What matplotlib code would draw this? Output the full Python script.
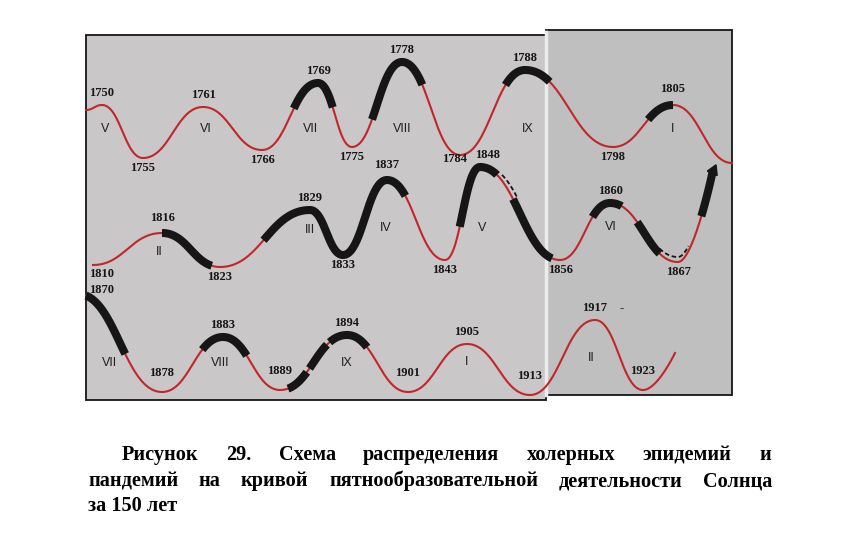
import matplotlib.pyplot as plt
import numpy as np
from matplotlib.bezier import BezierSegment
from matplotlib.patches import Rectangle

# turning points of the sunspot curve, row by row:
# year, place along the strip, height of the curve
row1_years = [1749, 1750, 1755, 1761, 1766, 1769, 1775, 1778, 1784, 1788, 1798, 1805, 1810]
row1_x = [0, 16, 57, 117, 176, 232, 266, 316, 374, 439, 527, 587, 646]
row1_y = [290, 295, 242, 293, 250, 317, 253, 338, 245, 330, 253, 295, 237]
row1_shown = [False] + [True] * 11 + [False]

row2_years = [1810, 1816, 1823, 1829, 1833, 1837, 1843, 1848, 1856, 1860, 1867, 1870]
row2_x = [7, 76, 134, 224, 257, 301, 359, 394, 474, 524, 592, 627]
row2_y = [135, 167, 133, 190, 145, 220, 140, 233, 140, 197, 138, 230]
row2_shown = [True] * 11 + [False]

row3_years = [1870, 1878, 1883, 1889, 1894, 1901, 1905, 1913, 1917, 1923, 1926]
row3_x = [-8, 76, 137, 194, 261, 322, 381, 444, 509, 557, 589]
row3_y = [106, 8, 63, 10, 65, 8, 56, 5, 80, 10, 47]
row3_shown = [True] * 10 + [False]

# cholera epidemics (thick black) and doubtful spans (dashed), in years
row1_epidemics = [(1767.7, 1771.6), (1776.2, 1780.1), (1786.8, 1790.8), (1802.1, 1805.0)]
row2_epidemics = [(1816.0, 1822.0), (1825.9, 1838.9), (1845.1, 1849.7), (1851.3, 1855.2),
                  (1858.6, 1861.2), (1862.8, 1865.1), (1869.0, 1870.0)]
row2_dashed = [(1849.7, 1851.3), (1865.1, 1867.9)]
row3_epidemics = [(1870.0, 1874.5), (1881.3, 1885.5), (1889.6, 1891.0), (1891.2, 1892.5),
                  (1892.7, 1896.3)]

# numbers of the solar cycles
row1_cycles = ['V', 'VI', 'VII', 'VIII', 'IX', 'I']
row1_cycle_years = [1750.4, 1761.2, 1768.6, 1778, 1788.3, 1804.9]
row1_cycle_y = [271] * 6
row2_cycles = ['II', 'III', 'IV', 'V', 'VI']
row2_cycle_years = [1815.8, 1829, 1836.9, 1848.2, 1860.1]
row2_cycle_y = [148, 170, 172, 172, 173]
row3_cycles = ['VII', 'VIII', 'IX', 'I', 'II']
row3_cycle_years = [1873.0, 1882.8, 1894, 1905, 1916.8]
row3_cycle_y = [37, 37, 37, 38, 42]

caption = ['Рисунок 29. Схема распределения холерных эпидемий и',
           'пандемий на кривой пятнообразовательной деятельности Солнца',
           'за 150 лет']

RED = '#c3262a'
INK = '#161616'

# small shifts of year labels that sit off their turning point in the source
label_nudge = {1784: (-5, 6), 1848: (8, 0), 1870: (0, -8), 1810: (0, 1), 1805: (0, 4),
               1816: (0, 3), 1837: (0, 3)}


def curve_points(xs, ys, open_end=False, k=0.45, n=80):
    pts = []
    last = len(xs) - 2
    for i in range(len(xs) - 1):
        x0, y0, x1, y1 = xs[i], ys[i], xs[i + 1], ys[i + 1]
        dx = x1 - x0
        c2 = (x1, y1) if (i == last and open_end) else (x1 - k * dx, y1)
        seg = BezierSegment(np.array([(x0, y0), (x0 + k * dx, y0), c2, (x1, y1)]))
        p = seg(np.linspace(0, 1, n))
        pts.append(p if i == 0 else p[1:])
    p = np.vstack(pts)
    return p[:, 0], p[:, 1]


def piece(cx, cy, xa, xb):
    xa = max(xa, 0)
    m = (cx > xa) & (cx < xb)
    px = np.concatenate([[xa], cx[m], [xb]])
    py = np.concatenate([[np.interp(xa, cx, cy)], cy[m], [np.interp(xb, cx, cy)]])
    return px, py


fig = plt.figure(figsize=(8.56, 5.45), dpi=100)
ax = fig.add_axes([0, 0, 1, 1])
ax.set_xlim(-86, 770)
ax.set_ylim(-145, 400)
ax.axis('off')

# the two scanned pages of the figure
ax.add_patch(Rectangle((0, 0), 460, 365, facecolor='#c9c7c8', edgecolor=INK, lw=1.3, zorder=0))
ax.add_patch(Rectangle((460, 5), 186, 365, facecolor='#bfbfbf', edgecolor=INK, lw=1.3, zorder=0))
ax.plot([460, 460], [5, 368], color='#ececec', lw=2.5, zorder=0.5)

rows = [
    (row1_years, row1_x, row1_y, row1_shown, row1_epidemics, [], False, False),
    (row2_years, row2_x, row2_y, row2_shown, row2_epidemics, row2_dashed, True, False),
    (row3_years, row3_x, row3_y, row3_shown, row3_epidemics, [], True, True),
]
dash_shift = [(5, 0), (0, 5)]
label_font = dict(family='Liberation Serif', weight='bold', fontsize=9, color=INK,
                  ha='center', va='center', zorder=5)

for years, xs, ys, shown, epid, dashed, open_end, low_row in rows:
    cx, cy = curve_points(xs, ys, open_end)
    keep = cx >= 0
    ax.plot(cx[keep], cy[keep], color=RED, lw=1.5, zorder=2)
    for a, b in epid:
        xa, xb = np.interp([a, b], years, xs)
        px, py = piece(cx, cy, xa, xb)
        ax.plot(px, py, color=INK, lw=5.8, solid_capstyle='butt', zorder=3)
    for j, (a, b) in enumerate(dashed):
        xa, xb = np.interp([a, b], years, xs)
        px, py = piece(cx, cy, xa, xb)
        sx, sy = dash_shift[j]
        ax.plot(px + sx, py + sy, color=INK, lw=1.3, ls=(0, (2.5, 1.5)), zorder=3)

    # year labels at the maxima and minima
    for i, (yr, x, y, show) in enumerate(zip(years, xs, ys, shown)):
        if not show:
            continue
        nb = [ys[j] for j in (i - 1, i + 1) if 0 <= j < len(ys)]
        peak = all(y > v for v in nb)
        if peak:
            ty = y + 12
        elif low_row:
            ty = y + 19
        else:
            ty = y - 10
        dx, dy = label_nudge.get(yr, (0, 0))
        ax.text(max(x, 16) + dx, ty + dy, str(yr), **label_font)

# arrow tip at the end of the second row
ax.plot(row2_x[-1], row2_y[-1], marker=(3, 0, -24), ms=9, color=INK, zorder=4)
ax.text(536, 92, '-', **label_font)

for names, cyears, cyl, (years, xs) in [
        (row1_cycles, row1_cycle_years, row1_cycle_y, (row1_years, row1_x)),
        (row2_cycles, row2_cycle_years, row2_cycle_y, (row2_years, row2_x)),
        (row3_cycles, row3_cycle_years, row3_cycle_y, (row3_years, row3_x))]:
    for name, yr, y in zip(names, cyears, cyl):
        ax.text(np.interp(yr, years, xs), y, name, family='Liberation Sans', fontsize=9,
                color='#202020', ha='center', va='center', zorder=5)

# caption, justified like the source page
cap_font = dict(family='Liberation Serif', weight='bold', fontsize=14.6, color='black',
                ha='left', va='baseline')
renderer = fig.canvas.get_renderer()


def justified(words, x0, x1, y):
    texts = [ax.text(0, y, w, **cap_font) for w in words]
    widths = [t.get_window_extent(renderer).width for t in texts]
    gap = (x1 - x0 - sum(widths)) / (len(words) - 1)
    x = x0
    for t, w in zip(texts, widths):
        t.set_x(x)
        x += w + gap


justified(caption[0].split(), 36, 685, -60)
justified(caption[1].split(), 2, 686, -86)
ax.text(2, -111, caption[2], **cap_font)

fig.savefig('out.png', dpi=100)
